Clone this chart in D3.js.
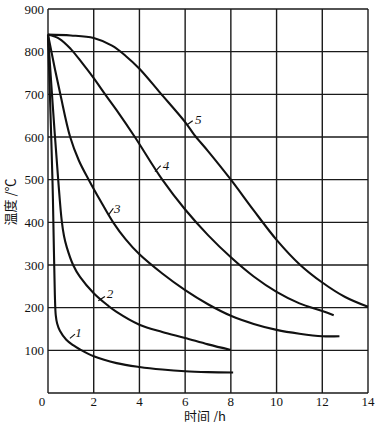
<!DOCTYPE html>
<html>
<head>
<meta charset="utf-8">
<script src="https://cdn.jsdelivr.net/npm/d3@7"></script>
<style>
body { margin: 0; background: #fff; }
svg text { font-family: "Liberation Serif", "DejaVu Serif", serif; fill: #111; }
</style>
</head>
<body>
<script>
// time (h), temperature (C)
var curve1 = [[0,840],[0.1,670],[0.2,490],[0.26,330],[0.3,230],[0.34,182],[0.4,163],[0.52,146],[0.8,125],[1.1,112],[1.4,102],[2,86],[3,70],[4,61],[5,55],[6,51],[7,49],[8.1,48]];
var curve2 = [[0,840],[0.2,680],[0.45,497],[0.6,404],[0.7,368],[0.82,342],[1.1,300],[1.4,272],[2,234],[2.6,206],[3,190],[4,160],[5,143],[6,129],[7,114],[8,101]];
var curve3 = [[0,840],[0.15,800],[0.3,760],[0.54,700],[0.97,600],[1.35,545],[1.78,500],[2.3,450],[2.85,400],[3.4,360],[4,325],[5,280],[6,241],[7,208],[8,181],[9,162],[10,148],[11,139],[12,133],[12.75,133]];
var curve4 = [[0,840],[0.5,830],[1,806],[1.5,773],[2,738],[2.5,700],[3,663],[3.8,600],[5,500],[6,430],[7,370],[8,318],[9,273],[10,237],[11,210],[12,192],[12.5,182]];
var curve5 = [[0,840],[1,838],[2,832],[2.8,814],[3.4,790],[4,760],[4.9,704],[6,635],[6.4,605],[7,567],[8,500],[9,428],[10,359],[11,302],[12,259],[13,225],[14,202]];
var curves = [curve1, curve2, curve3, curve4, curve5];

var curveNames = ["1", "2", "3", "4", "5"];
// label centre and leader line ends, in data units
var labelPos = [[1.33,141],[2.71,234],[3.03,433],[5.16,533],[6.57,641]];
var leaderFrom = [[0.96,128],[2.2,216],[2.64,417],[4.68,519],[6.07,628]];
var leaderTo = [[1.18,138],[2.49,226],[2.86,433],[4.93,533],[6.33,638]];

var xTicks = [0, 2, 4, 6, 8, 10, 12, 14];
var yTicks = [100, 200, 300, 400, 500, 600, 700, 800, 900];

var svg = d3.select("body").append("svg").attr("width", 386).attr("height", 422);

var x = d3.scaleLinear().domain([0, 14]).range([48, 368]);
var y = d3.scaleLinear().domain([0, 900]).range([393, 9]);

// grid
svg.selectAll("line.vgrid").data(xTicks).enter().append("line")
.attr("class", "vgrid")
.attr("x1", function(d){ return x(d); }).attr("x2", function(d){ return x(d); })
.attr("y1", y(0)).attr("y2", y(900))
.attr("stroke", "#1a1a1a").attr("stroke-width", 1.4);

svg.selectAll("line.hgrid").data([0].concat(yTicks)).enter().append("line")
.attr("class", "hgrid")
.attr("x1", x(0)).attr("x2", x(14))
.attr("y1", function(d){ return y(d); }).attr("y2", function(d){ return y(d); })
.attr("stroke", "#1a1a1a").attr("stroke-width", 1.4);

// tick labels
svg.selectAll("text.xt").data(xTicks).enter().append("text")
.attr("class", "xt")
.attr("x", function(d){ return d === 0 ? x(d) - 6 : x(d); })
.attr("y", 406)
.attr("text-anchor", "middle")
.attr("font-size", 13)
.text(function(d){ return d; });

svg.selectAll("text.yt").data(yTicks).enter().append("text")
.attr("class", "yt")
.attr("x", 44)
.attr("y", function(d){ return y(d) + 4.5; })
.attr("text-anchor", "end")
.attr("font-size", 13)
.text(function(d){ return d; });

// curves
var line = d3.line()
.x(function(d){ return x(d[0]); })
.y(function(d){ return y(d[1]); })
.curve(d3.curveCatmullRom.alpha(0.5));

svg.selectAll("path.curve").data(curves).enter().append("path")
.attr("class", "curve")
.attr("d", line)
.attr("fill", "none")
.attr("stroke", "#111")
.attr("stroke-width", 2.1);

// leaders and curve numbers
svg.selectAll("line.leader").data(curveNames).enter().append("line")
.attr("class", "leader")
.attr("x1", function(d, i){ return x(leaderFrom[i][0]); })
.attr("y1", function(d, i){ return y(leaderFrom[i][1]); })
.attr("x2", function(d, i){ return x(leaderTo[i][0]); })
.attr("y2", function(d, i){ return y(leaderTo[i][1]); })
.attr("stroke", "#111").attr("stroke-width", 1.2);

svg.selectAll("text.name").data(curveNames).enter().append("text")
.attr("class", "name")
.attr("x", function(d, i){ return x(labelPos[i][0]); })
.attr("y", function(d, i){ return y(labelPos[i][1]) + 4.5; })
.attr("text-anchor", "middle")
.attr("font-size", 13)
.attr("font-style", "italic")
.text(function(d){ return d; });

// axis titles
svg.append("text")
.attr("x", 205).attr("y", 421)
.attr("text-anchor", "middle")
.attr("font-size", 13)
.style("font-family", "'Noto Sans CJK SC', 'Liberation Serif', sans-serif")
.text("时间 /h");

svg.append("text")
.attr("transform", "translate(15,202) rotate(-90)")
.attr("text-anchor", "middle")
.attr("font-size", 13)
.style("font-family", "'Noto Sans CJK SC', 'Liberation Serif', sans-serif")
.text("温度 /℃");
</script>
</body>
</html>
